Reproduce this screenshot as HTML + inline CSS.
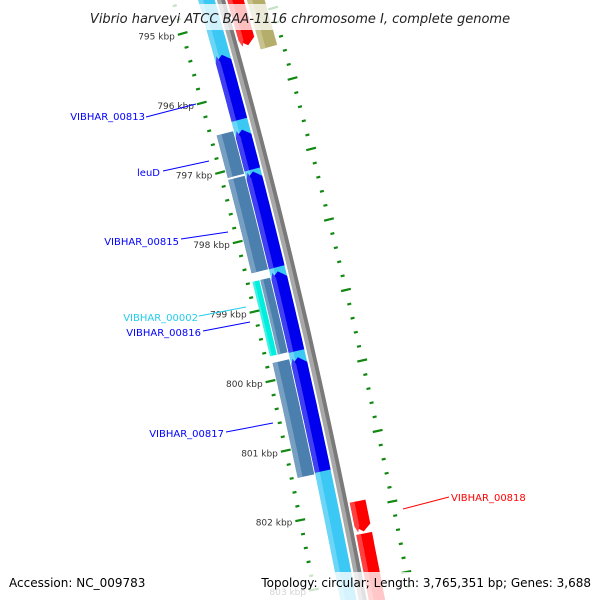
<!DOCTYPE html>
<html><head><meta charset="utf-8"><style>
html,body{margin:0;padding:0;background:#fff}
svg{display:block;font-family:"DejaVu Sans","Liberation Sans",sans-serif}
</style></head><body>
<svg id="map" xmlns="http://www.w3.org/2000/svg" width="600" height="600" viewBox="0 0 600 600">
<rect width="600" height="600" fill="#fff"/>
<g id="tracks"></g>
<g id="ticks"></g>
<g id="labels">
<line x1="146" y1="117" x2="196" y2="104" stroke="#0000ff"/>
<text x="145" y="120" text-anchor="end" font-size="10" fill="#0000ff">VIBHAR_00813</text>
<line x1="163" y1="171" x2="209" y2="161" stroke="#0000ff"/>
<text x="160" y="176" text-anchor="end" font-size="10" fill="#0000ff">leuD</text>
<line x1="181" y1="239" x2="228" y2="232" stroke="#0000ff"/>
<text x="179" y="245" text-anchor="end" font-size="10" fill="#0000ff">VIBHAR_00815</text>
<line x1="199" y1="316" x2="246" y2="307" stroke="#22ccee"/>
<text x="198" y="321" text-anchor="end" font-size="10" fill="#22ccee">VIBHAR_00002</text>
<line x1="203" y1="331" x2="250" y2="322" stroke="#0000ff"/>
<text x="201" y="336" text-anchor="end" font-size="10" fill="#0000ff">VIBHAR_00816</text>
<line x1="226" y1="432" x2="273" y2="423" stroke="#0000ff"/>
<text x="224" y="437" text-anchor="end" font-size="10" fill="#0000ff">VIBHAR_00817</text>
<line x1="403" y1="509" x2="449" y2="497" stroke="#ff0000"/>
<text x="451" y="501" font-size="10" fill="#ff0000">VIBHAR_00818</text>
</g>
<rect x="70" y="4" width="460" height="26" fill="#fff" opacity="0.75"/>
<text x="300" y="23" text-anchor="middle" font-size="13" font-style="italic" fill="#222">Vibrio harveyi ATCC BAA-1116 chromosome I, complete genome</text>
<rect x="0" y="572" width="600" height="28" fill="#fff" opacity="0.78"/>
<text x="9" y="587" font-size="12" fill="#000">Accession: NC_009783</text>
<text x="591" y="587" text-anchor="end" font-size="12" fill="#000">Topology: circular; Length: 3,765,351 bp; Genes: 3,688</text>
</svg>
<script>
// data (kbp)
const featNames = ['backbone-blue','arrow-1','vibhar-00813','arrow-3','arrow-4','arrow-5','leud','vibhar-00815','vibhar-00816','vibhar-00002','vibhar-00817','red-top','olive-top','vibhar-00818-a','vibhar-00818-b'];
const featStart = [794.4,795.43,796.5,797.1,798.53,799.76,796.49,797.13,798.59,798.59,799.76,794.4,794.4,801.9,802.36];
const featEnd   = [803.6,796.36,797.07,798.47,799.67,801.39,797.1,798.47,799.66,799.66,801.41,795.4,795.5,802.33,803.6];
const featTrack = ['A','A','A','A','A','A','S','S','SR','SL','S','R','O','R','R'];
const featColor = ['#3cc8f4','#0000ee','#0000ee','#0000ee','#0000ee','#0000ee','#4a7fae','#4a7fae','#4a7fae','#00eedd','#4a7fae','#ff0000','#b5ad6a','#ff0000','#ff0000'];
const featDir   = [0,-1,-1,-1,-1,-1,0,0,0,0,0,1,0,1,1];
const tickLabels = [795,796,797,798,799,800,801,802,803];

const trackD = {A:[-22,-6],S:[-40,-23],SR:[-33,-23],SL:[-41,-34],R:[6,22],O:[25,42]};
const NS='http://www.w3.org/2000/svg';
function yOf(k){return 91+(k-796)*70;}
function pt(k,d){
  const y=yOf(k);
  const dx=0.2838-2*7.93e-5*y;
  const x=221+0.2838*y-7.93e-5*y*y;
  const n=Math.sqrt(1+dx*dx);
  return [x+d/n, y-d*dx/n];
}
function band(s,e,d1,d2,dir){
  const pts=[];const N=20;const head=0.09;
  let s2=s,e2=e;
  if(dir<0) s2=s+head; if(dir>0) e2=e-head;
  for(let i=0;i<=N;i++){pts.push(pt(s2+(e2-s2)*i/N,d1));}
  if(dir>0) pts.push(pt(e,(d1+d2)/2));
  for(let i=N;i>=0;i--){pts.push(pt(s2+(e2-s2)*i/N,d2));}
  if(dir<0) pts.push(pt(s,(d1+d2)/2));
  return pts.map(p=>p[0].toFixed(1)+','+p[1].toFixed(1)).join(' ');
}
function lighten(c,f){
  const n=parseInt(c.slice(1),16);let r=n>>16,g=(n>>8)&255,b=n&255;
  r=Math.round(r+(255-r)*f);g=Math.round(g+(255-g)*f);b=Math.round(b+(255-b)*f);
  return 'rgb('+r+','+g+','+b+')';
}
const T=document.getElementById('tracks');
// backbone gray line
const g1=document.createElementNS(NS,'polygon');
g1.setAttribute('points',band(794.4,803.6,-4,0,0));
g1.setAttribute('fill','#a8a8a8');


T.appendChild(g1);
const g2=document.createElementNS(NS,'polygon');
g2.setAttribute('points',band(794.4,803.6,0,4,0));
g2.setAttribute('fill','#7a7a7a');


T.appendChild(g2);
for(let i=0;i<featNames.length;i++){
  const [d1,d2]=trackD[featTrack[i]];
  const p=document.createElementNS(NS,'polygon');
  p.setAttribute('points',band(featStart[i],featEnd[i],d1,d2,featDir[i]));
  p.setAttribute('fill',featColor[i]);
  
  
  T.appendChild(p);
  const w=d2-d1;
  const h=document.createElementNS(NS,'polygon');
  h.setAttribute('points',band(featStart[i],featEnd[i],d1,d1+w*0.3,featDir[i]));
  h.setAttribute('fill',lighten(featColor[i],0.25));
  
  
  T.appendChild(h);
}
// ticks
const K=document.getElementById('ticks');
for(let k=794.6;k<=803.31;k+=0.2){
  const major=Math.abs(k-Math.round(k))<0.01;
  [[-46,'left'],[48,'right']].forEach(([d,side])=>{
    const l=major?5:2;
    const a=pt(k,d-l),b=pt(k,d+l);
    const ln=document.createElementNS(NS,'line');
    ln.setAttribute('x1',a[0]);ln.setAttribute('y1',a[1]);
    ln.setAttribute('x2',b[0]);ln.setAttribute('y2',b[1]);
    ln.setAttribute('stroke','#118811');
    ln.setAttribute('stroke-width','2.2');
    
    
    K.appendChild(ln);
  });
}
tickLabels.forEach(v=>{
  const p=pt(v,-54);
  const t=document.createElementNS(NS,'text');
  t.setAttribute('x',p[0].toFixed(1));t.setAttribute('y',(p[1]+4).toFixed(1));
  t.setAttribute('text-anchor','end');
  t.setAttribute('font-size','9');
  t.setAttribute('fill','#333');
  
  
  t.textContent=v+' kbp';
  K.appendChild(t);
});
</script>
</body></html>
